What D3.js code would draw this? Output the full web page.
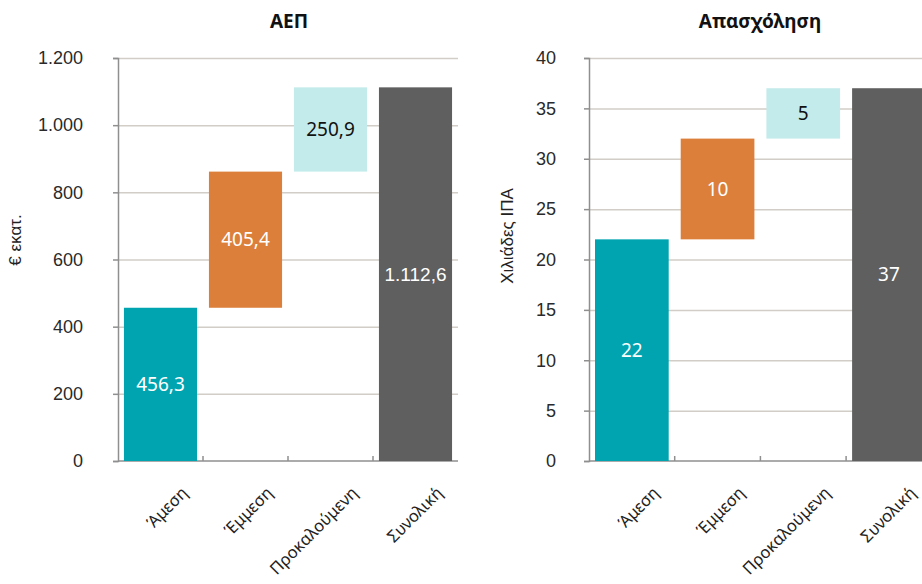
<!DOCTYPE html>
<html>
<head>
<meta charset="utf-8">
<script src="https://cdn.jsdelivr.net/npm/d3@7"></script>
<style>
  body { margin: 0; background: #fff; }
  svg text { font-family: "Liberation Sans", Arial, sans-serif; }
  .title { font-family: "Noto Sans", sans-serif; font-weight: bold; font-size: 19px; fill: #111; }
  .vlabel { font-family: "Noto Sans", sans-serif; font-size: 19px; }
</style>
</head>
<body>
<div id="canvas"></div>
<script>
const w = 922, h = 584;

// shared categories
const categories = ["Άμεση", "Έμμεση", "Προκαλούμενη", "Συνολική"];
const colors = ["#00a4b0", "#dc7f3a", "#c4ebeb", "#5f5f5f"];
const labelColors = ["#fff", "#fff", "#111", "#fff"];

// ΑΕΠ
const gdpValues = [456.3, 405.4, 250.9, 1112.6];
const gdpLabels = ["456,3", "405,4", "250,9", "1.112,6"];
const gdpTicks = [0, 200, 400, 600, 800, 1000, 1200];
const gdpTickLabels = ["0", "200", "400", "600", "800", "1.000", "1.200"];

// Απασχόληση
const jobValues = [22, 10, 5, 37];
const jobLabels = ["22", "10", "5", "37"];
const jobTicks = [0, 5, 10, 15, 20, 25, 30, 35, 40];
const jobTickLabels = jobTicks.map(String);

let svg = d3.select("#canvas")
            .append("svg")
                .attr("width", w)
                .attr("height", h)
                .attr("viewBox", [0, 0, w, h]);

function waterfall(values) {
    // steps stack, last bar is the total from zero
    let acc = 0;
    return values.map((v, i) => {
        if (i === values.length - 1) return {y0: 0, y1: v};
        let d = {y0: acc, y1: acc + v};
        acc += v;
        return d;
    });
}

function drawChart(opt) {
    let g = svg.append("g");
    let x = d3.scaleBand()
        .domain(categories)
        .range([opt.left, opt.left + 4 * opt.band])
        .paddingInner(0.14)
        .paddingOuter(0.07);
    let y = d3.scaleLinear()
        .domain([0, opt.max])
        .range([461, 58]);

    // grid
    g.selectAll(".grid")
        .data(opt.ticks.slice(1))
        .enter().append("line")
            .attr("x1", opt.left)
            .attr("x2", opt.left + 4 * opt.band)
            .attr("y1", d => y(d) + 0.5)
            .attr("y2", d => y(d) + 0.5)
            .attr("stroke", "#d2cdc7")
            .attr("stroke-width", 1.5);

    // y axis
    let yAxis = d3.axisLeft(y)
        .tickValues(opt.ticks)
        .tickFormat((d, i) => opt.tickLabels[i])
        .tickSize(5)
        .tickPadding(opt.tickPad);
    let gY = g.append("g")
        .attr("transform", "translate(" + opt.left + ",0)")
        .call(yAxis);
    gY.select(".domain").attr("stroke", "#8f8f8f").attr("stroke-width", 1.5);
    gY.selectAll(".tick line").attr("stroke", "#8f8f8f").attr("stroke-width", 1.5);
    gY.selectAll(".tick text")
        .attr("font-size", 18)
        .attr("fill", "#2a2a2a")
        .attr("font-family", "Liberation Sans, Arial, sans-serif");

    // x axis
    let gX = g.append("g")
        .attr("transform", "translate(0,461)");
    gX.append("line")
        .attr("x1", opt.left).attr("x2", opt.left + 4 * opt.band)
        .attr("stroke", "#8f8f8f").attr("stroke-width", 1.5);
    gX.selectAll(".xt")
        .data(d3.range(1, 4))
        .enter().append("line")
            .attr("x1", i => opt.left + i * opt.band)
            .attr("x2", i => opt.left + i * opt.band)
            .attr("y1", 0).attr("y2", -5)
            .attr("stroke", "#8f8f8f").attr("stroke-width", 1.5);

    gX.selectAll(".xl")
        .data(categories)
        .enter().append("text")
            .attr("transform", d => "translate(" + (x(d) + x.bandwidth() / 2 + 28) + ",33) rotate(-45)")
            .attr("text-anchor", "end")
            .style("font-size", "16.5px")
            .style("font-family", "'Noto Sans', sans-serif")
            .attr("fill", "#222")
            .text(d => d);

    // bars
    let steps = waterfall(opt.values);
    g.selectAll(".bar")
        .data(steps)
        .enter().append("rect")
            .attr("x", (d, i) => x(categories[i]))
            .attr("width", x.bandwidth())
            .attr("y", d => y(d.y1))
            .attr("height", d => y(d.y0) - y(d.y1))
            .attr("fill", (d, i) => colors[i]);

    g.selectAll(".val")
        .data(steps)
        .enter().append("text")
            .attr("class", "vlabel")
            .attr("x", (d, i) => x(categories[i]) + x.bandwidth() / 2)
            .attr("y", d => (y(d.y0) + y(d.y1)) / 2)
            .attr("dy", "0.35em")
            .attr("text-anchor", "middle")
            .attr("fill", (d, i) => labelColors[i])
            .style("font-family", (d, i) => i === 3 && opt.values[3] > 100 ? "'Liberation Sans', Arial, sans-serif" : null)
            .text((d, i) => opt.labels[i]);

    // title
    g.append("text")
        .attr("class", "title")
        .attr("x", opt.titleX)
        .attr("y", 28)
        .attr("text-anchor", "middle")
        .text(opt.title);

    // y label
    g.append("text")
        .attr("transform", "translate(" + opt.ylabX + "," + opt.ylabY + ") rotate(-90)")
        .attr("text-anchor", "middle")
        .style("font-size", "17px")
        .attr("fill", "#222")
        .text(opt.ylabel);
}

drawChart({
    left: 118, band: 85, max: 1200,
    values: gdpValues, labels: gdpLabels,
    ticks: gdpTicks, tickLabels: gdpTickLabels, tickPad: 30,
    title: "ΑΕΠ", titleX: 289,
    ylabel: "€ εκατ.", ylabX: 21, ylabY: 240
});

drawChart({
    left: 589, band: 85.7, max: 40,
    values: jobValues, labels: jobLabels,
    ticks: jobTicks, tickLabels: jobTickLabels, tickPad: 28,
    title: "Απασχόληση", titleX: 760,
    ylabel: "Χιλιάδες ΙΠΑ", ylabX: 513, ylabY: 236
});
</script>
</body>
</html>
